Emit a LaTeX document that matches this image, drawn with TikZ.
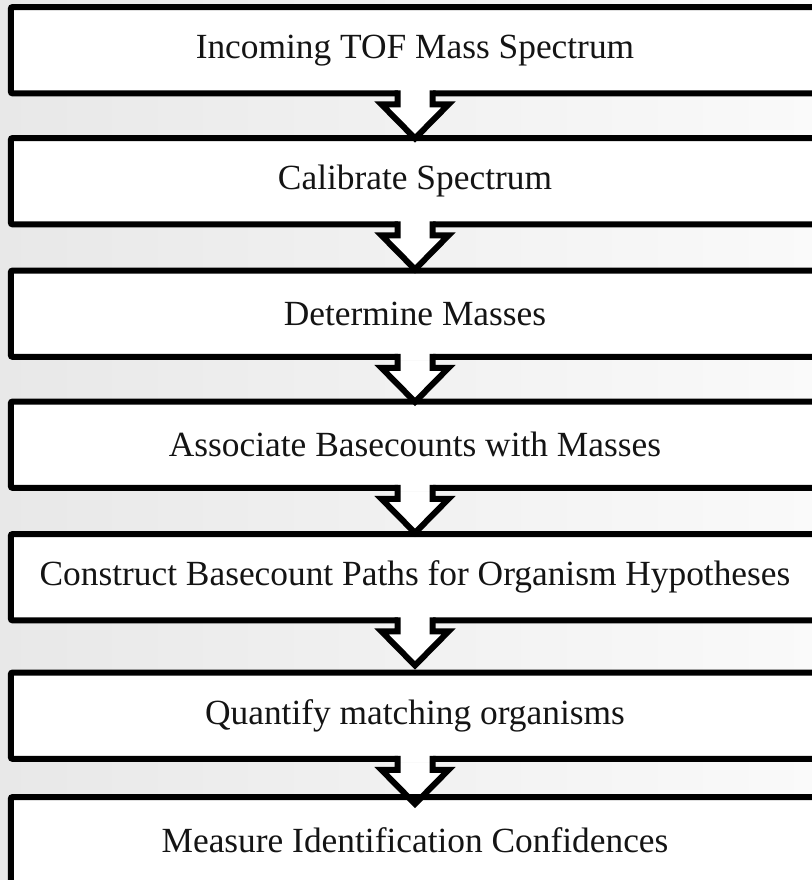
\documentclass[tikz,border=0pt]{standalone}
\usepackage{fontspec}
\setmainfont{Liberation Serif}
\usetikzlibrary{calc}

\begin{document}
\begin{tikzpicture}[x=1bp,y=1bp,
  stage/.style={draw=none, fill=white, rounded corners=2bp,
    minimum width=808bp, minimum height=86bp, inner sep=0pt, anchor=north,
    font=\fontsize{35.5}{40}\selectfont, text=black!92},
  edge/.style={draw=black, line width=6bp, rounded corners=2bp},
  notchfill/.style={fill=white},
  notchline/.style={draw=black, line width=6bp, line join=miter}]

  % page and soft grey backdrop
  \useasboundingbox (0,0) rectangle (812,-880);
  \shade[left color=black!9, right color=black!2] (0,0) rectangle (812,-880);

  % process stages (white bodies; outlines follow below)
  \node[stage] (s1) at (415,-7)     {Incoming TOF Mass Spectrum};
  \node[stage] (s2) at (415,-138)   {Calibrate Spectrum};
  \node[stage] (s3) at (415,-270.5) {Determine Masses};
  \node[stage] (s4) at (415,-401.5) {Associate Basecounts with Masses};
  \node[stage] (s5) at (415,-534)   {Construct Basecount Paths for Organism Hypotheses};
  \node[stage] (s6) at (415,-672.5) {Quantify matching organisms};
  \node[stage] (s7) at (415,-797)   {Measure Identification Confidences};

  % white body of each block arrow
  \foreach \s in {s1,s2,s3,s4,s5,s6}{
    \fill[notchfill] ($(\s.south)+(-17.5,-3.5)$) -- ($(\s.south)+(-17.5,-11)$)
      -- ($(\s.south)+(-33.5,-11)$) -- ($(\s.south)+(0,-45)$)
      -- ($(\s.south)+(33.5,-11)$) -- ($(\s.south)+(17.5,-11)$)
      -- ($(\s.south)+(17.5,-3.5)$) -- cycle;
  }
  % stage outlines stay on top of the arrow bodies
  \foreach \s in {s1,s2,s3,s4,s5,s6,s7}{
    \draw[edge] (\s.south west) rectangle (\s.north east);
  }
  % open each stage's lower edge where the arrow shaft leaves it, then outline the arrows
  \foreach \s in {s1,s2,s3,s4,s5,s6}{
    \fill[notchfill] ($(\s.south)+(-17.5,3.5)$) rectangle ($(\s.south)+(17.5,-3.5)$);
    \draw[notchline] ($(\s.south)+(-17.5,3)$) -- ($(\s.south)+(-17.5,-11)$)
      -- ($(\s.south)+(-33.5,-11)$) -- ($(\s.south)+(0,-45)$)
      -- ($(\s.south)+(33.5,-11)$) -- ($(\s.south)+(17.5,-11)$)
      -- ($(\s.south)+(17.5,3)$);
  }
\end{tikzpicture}
\end{document}
